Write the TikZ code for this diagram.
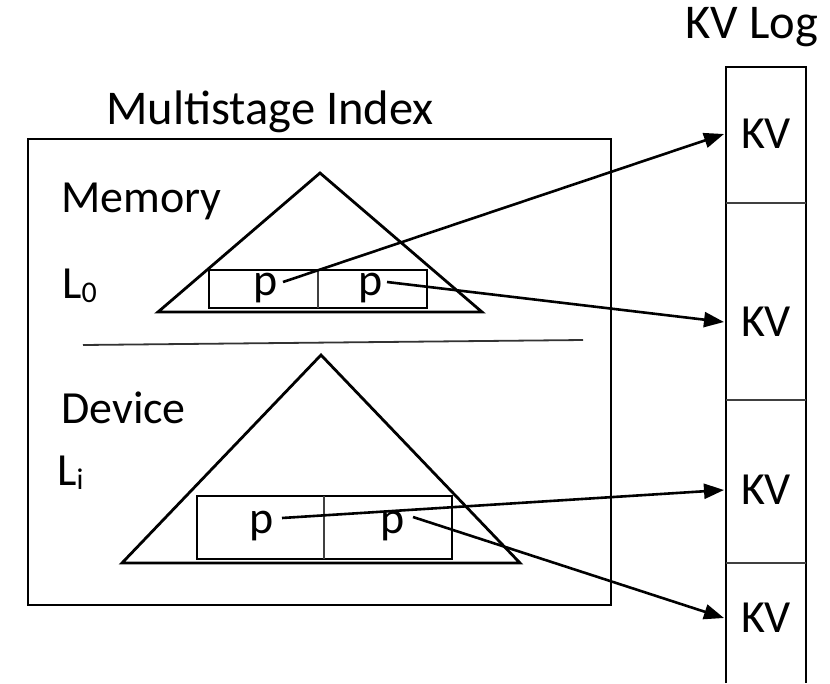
\documentclass[tikz,border=0pt]{standalone}
\usepackage{fontspec}
\setmainfont{Carlito}
\usetikzlibrary{arrows.meta}
\begin{document}
\begin{tikzpicture}[x=1pt,y=-1pt,
  txt/.style={font=\fontsize{46}{55}\selectfont, inner sep=0pt},
  heading/.style={font=\fontsize{48.5}{58}\selectfont, inner sep=0pt},
  frame/.style={line width=2.4pt, line join=miter},
  tree/.style={line width=2.8pt, line join=miter},
  cellbox/.style={line width=2.8pt},
  thin divider/.style={line width=1.3pt, draw=black!75},
  ptr/.style={line width=2.6pt, -{Triangle[length=20pt,width=15pt]}}]
\useasboundingbox (0,0) rectangle (830,683);

% index frame and its caption
\draw[frame] (28,139) rectangle (611,605);
\node[heading, anchor=base] (title) at (270,124) {Multistage Index};

% level labels
\node[txt, anchor=base west] (memtext) at (61,212) {Memory};
\node[txt, anchor=base west] (l0) at (62,298) {L\raisebox{-4pt}{\fontsize{30}{30}\selectfont 0}};
\node[txt, anchor=base west] (devtext) at (61,423) {Device};
\node[txt, anchor=base west] (li) at (57,485) {L\raisebox{-4pt}{\fontsize{30}{30}\selectfont i}};

% memory / device boundary
\draw[line width=1.8pt, draw=black!80] (83,345) -- (583,340);

% in-memory tree and its node
\draw[tree] (320,173) -- (482,312) -- (158,312) -- cycle;
\draw[cellbox] (209,270) rectangle (427,308);
\draw[thin divider] (318,270) -- (318,308);
\node[txt, anchor=base] (p1) at (266,295) {p};
\node[txt, anchor=base] (p2) at (371,295) {p};

% on-device tree and its node
\draw[tree] (321,355) -- (520,563) -- (122,563) -- cycle;
\draw[cellbox] (197,496) rectangle (452,559);
\draw[thin divider] (324,496) -- (324,559);
\node[txt, anchor=base] (p3) at (262,533) {p};
\node[txt, anchor=base] (p4) at (393,533) {p};

% value log column
\node[heading, anchor=base] (logtitle) at (752,38) {KV Log};
\draw[line width=2.4pt] (726,683) -- (726,67) -- (806,67) -- (806,683);
\draw[thin divider] (726,203) -- (806,203);
\draw[thin divider] (726,400) -- (806,400);
\draw[thin divider] (726,563) -- (806,563);
\node[txt] (kv1) at (766,134) {KV};
\node[txt] (kv2) at (766,322) {KV};
\node[txt] (kv3) at (766,490) {KV};
\node[txt] (kv4) at (766,618) {KV};
\coordinate (logedge) at (724,0);

% pointers from index entries into the log
\coordinate (s1) at (283,282);
\coordinate (s2) at (387,282);
\coordinate (s3) at (282,518);
\coordinate (s4) at (413,517);
\draw[ptr] (s1) -- (kv1 -| logedge);
\draw[ptr] (s2) -- (kv2 -| logedge);
\draw[ptr] (s3) -- (kv3 -| logedge);
\draw[ptr] (s4) -- (kv4 -| logedge);
\end{tikzpicture}
\end{document}
